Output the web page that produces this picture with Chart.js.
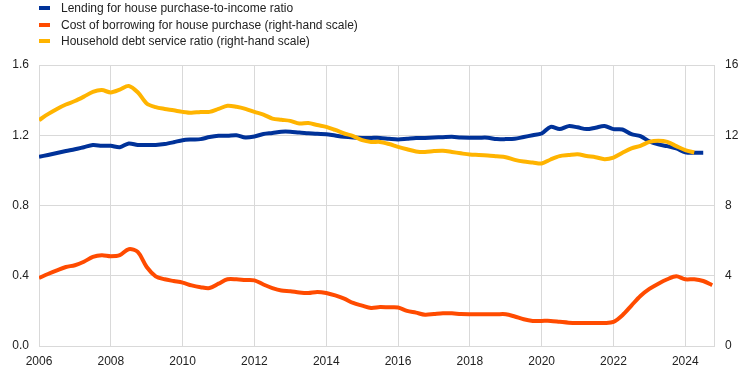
<!DOCTYPE html>
<html lang="en">
<head>
    <meta charset="UTF-8">
    <title>House purchase lending, borrowing cost and debt service</title>
    <script src="https://cdn.jsdelivr.net/npm/chart.js"></script>
    <style>
        body { margin: 0; background: #fff; }
        #wrap { position: relative; width: 744px; height: 373px; }
        #legend {
            position: absolute; left: 39px; top: 0;
            font: 12px "Liberation Sans", Arial, sans-serif; color: #222;
        }
        #legend div { height: 16.7px; line-height: 16.7px; white-space: nowrap; }
        #legend span {
            display: inline-block; width: 11px; height: 4px;
            vertical-align: middle; margin: -2px 11px 0 0;
        }
    </style>
</head>
<body>
<div id="wrap">
    <canvas id="chart"></canvas>
    <div id="legend"></div>
</div>
<script>
    // quarterly observations, first quarter = 2006 Q1
    const startYear = 2006;
    const seriesNames = [
        'Lending for house purchase-to-income ratio',
        'Cost of borrowing for house purchase (right-hand scale)',
        'Household debt service ratio (right-hand scale)'
    ];
    const seriesColors = ['#003299', '#ff4b00', '#ffb400'];

    // left-hand scale
    const lendingToIncome = [
        1.077, 1.088, 1.099, 1.110, 1.120, 1.132, 1.144, 1.140,
        1.140, 1.132, 1.153, 1.145, 1.145, 1.145, 1.150, 1.160,
        1.172, 1.176, 1.178, 1.190, 1.197, 1.197, 1.200, 1.187,
        1.193, 1.207, 1.213, 1.220, 1.220, 1.215, 1.212, 1.208,
        1.206, 1.198, 1.191, 1.187, 1.185, 1.185, 1.185, 1.180,
        1.176, 1.180, 1.184, 1.185, 1.187, 1.189, 1.191, 1.187,
        1.186, 1.186, 1.186, 1.178, 1.178, 1.180, 1.190, 1.200,
        1.210, 1.248, 1.235, 1.252, 1.245, 1.235, 1.243, 1.252,
        1.235, 1.233, 1.206, 1.195, 1.165, 1.148, 1.138, 1.125,
        1.103, 1.100, 1.100
    ];
    // right-hand scale
    const borrowingCost = [
        3.87, 4.10, 4.31, 4.50, 4.60, 4.80, 5.07, 5.17,
        5.11, 5.17, 5.51, 5.36, 4.50, 3.97, 3.80, 3.70,
        3.61, 3.45, 3.35, 3.30, 3.55, 3.80, 3.80, 3.76,
        3.74, 3.50, 3.30, 3.16, 3.12, 3.05, 3.02, 3.08,
        3.02, 2.88, 2.70, 2.45, 2.30, 2.17, 2.22, 2.20,
        2.19, 2.00, 1.90, 1.78, 1.82, 1.86, 1.86, 1.82,
        1.81, 1.81, 1.81, 1.81, 1.81, 1.68, 1.52, 1.43,
        1.43, 1.43, 1.38, 1.33, 1.31, 1.31, 1.31, 1.31,
        1.37, 1.75, 2.30, 2.85, 3.25, 3.55, 3.80, 3.97,
        3.80, 3.80, 3.70, 3.46
    ];
    const debtServiceRatio = [
        12.86, 13.20, 13.50, 13.75, 13.95, 14.20, 14.47, 14.57,
        14.44, 14.60, 14.81, 14.45, 13.81, 13.60, 13.50, 13.42,
        13.33, 13.28, 13.33, 13.33, 13.50, 13.68, 13.62, 13.50,
        13.33, 13.18, 12.95, 12.88, 12.82, 12.67, 12.70, 12.58,
        12.48, 12.30, 12.10, 11.95, 11.72, 11.62, 11.62, 11.50,
        11.34, 11.20, 11.08, 11.05, 11.10, 11.12, 11.05, 10.97,
        10.90, 10.88, 10.85, 10.80, 10.75, 10.60, 10.50, 10.45,
        10.39, 10.62, 10.81, 10.87, 10.92, 10.82, 10.75, 10.64,
        10.73, 11.00, 11.25, 11.40, 11.62, 11.68, 11.62, 11.38,
        11.15, 11.02
    ];

    const toPoints = vals => vals.map((v, i) => ({ x: startYear + i / 4, y: v }));

    const legend = document.getElementById('legend');
    seriesNames.forEach((name, i) => {
        const row = document.createElement('div');
        row.innerHTML = '<span style="background:' + seriesColors[i] + '"></span>' + name;
        legend.appendChild(row);
    });

    const tickFont = { family: '"Liberation Sans", Arial, sans-serif', size: 12 };
    const gridColor = '#d9d9d9';

    new Chart(document.getElementById('chart'), {
        type: 'line',
        data: {
            datasets: [
                { label: seriesNames[0], data: toPoints(lendingToIncome), borderColor: seriesColors[0], yAxisID: 'y', order: 3 },
                { label: seriesNames[1], data: toPoints(borrowingCost), borderColor: seriesColors[1], yAxisID: 'y1', order: 2 },
                { label: seriesNames[2], data: toPoints(debtServiceRatio), borderColor: seriesColors[2], yAxisID: 'y1', order: 1 }
            ]
        },
        options: {
            responsive: true,
            maintainAspectRatio: false,
            animation: false,
            elements: {
                line: { borderWidth: 4, tension: 0.3, fill: false },
                point: { radius: 0 }
            },
            layout: { padding: { top: 65, left: 0, right: 0, bottom: 0 } },
            plugins: { legend: { display: false }, tooltip: { enabled: false } },
            scales: {
                x: {
                    type: 'linear',
                    min: 2006,
                    max: 2024.8,
                    grid: { color: gridColor, drawTicks: false },
                    border: { color: gridColor },
                    afterFit: s => { s.height = 27; },
                    ticks: {
                        stepSize: 2,
                        includeBounds: false,
                        padding: 8,
                        color: '#222',
                        font: tickFont,
                        maxRotation: 0,
                        callback: v => String(v)
                    }
                },
                y: {
                    position: 'left',
                    min: 0,
                    max: 1.6,
                    grid: { color: gridColor, drawTicks: false },
                    border: { color: gridColor },
                    afterFit: s => { s.width = 39; },
                    ticks: { stepSize: 0.4, padding: 10, color: '#222', font: tickFont, callback: v => v.toFixed(1) }
                },
                y1: {
                    position: 'right',
                    min: 0,
                    max: 16,
                    grid: { display: false, drawTicks: false },
                    border: { color: gridColor },
                    afterFit: s => { s.width = 30; },
                    ticks: { stepSize: 4, padding: 11, color: '#222', font: tickFont }
                }
            }
        }
    });
</script>
</body>
</html>
